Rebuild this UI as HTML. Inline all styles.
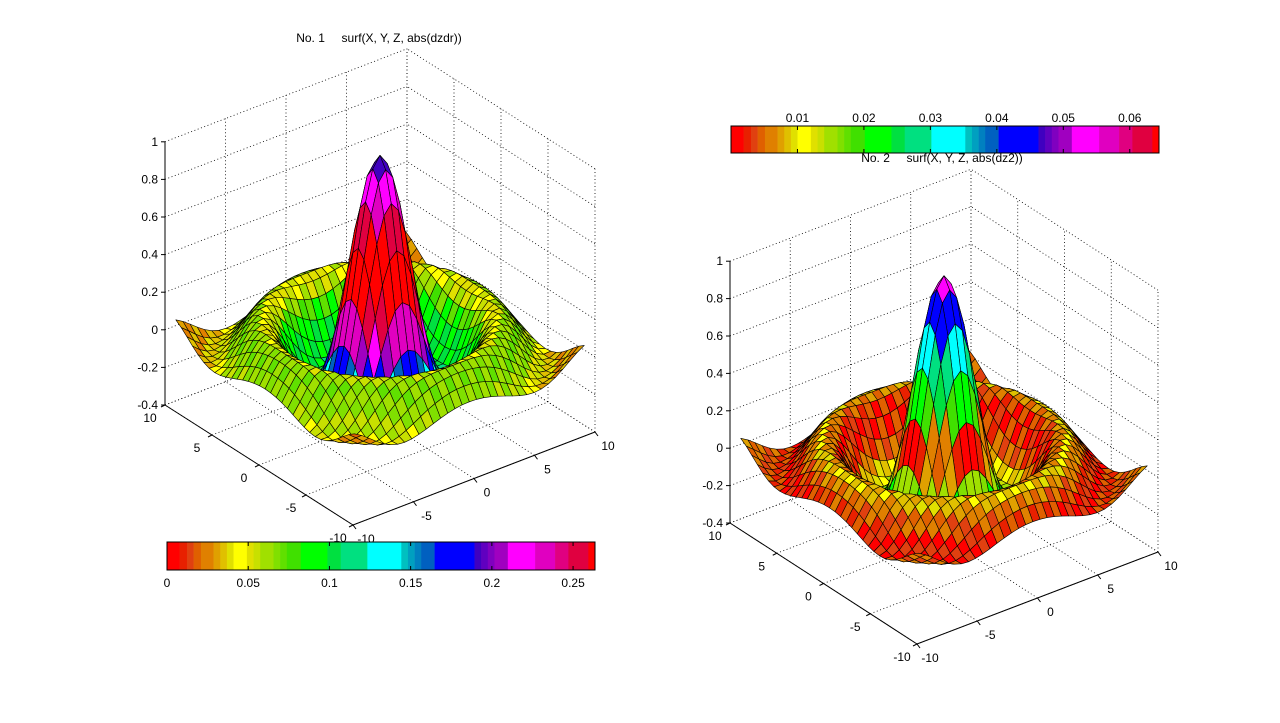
<!DOCTYPE html>
<html><head><meta charset="utf-8">
<style>
html,body{margin:0;padding:0;background:#fff;}
svg{display:block;font-family:"Liberation Sans",sans-serif;}
</style></head>
<body>
<svg id="fig" width="1280" height="723" viewBox="0 0 1280 723" xmlns="http://www.w3.org/2000/svg">
<rect x="0" y="0" width="1280" height="723" fill="#fff"/>
<g id="p1"></g>
<g id="p2"></g>
<g id="cb1"></g>
<g id="cb2"></g>
<text x="379" y="42" font-size="12" text-anchor="middle" xml:space="preserve">No. 1     surf(X, Y, Z, abs(dzdr))</text>
<text x="942" y="162" font-size="12" text-anchor="middle" xml:space="preserve">No. 2     surf(X, Y, Z, abs(dz2))</text>
</svg>
<script>
// ---- data ----
const gridVals = [-9.5,-8.906,-8.313,-7.719,-7.125,-6.531,-5.938,-5.344,-4.75,-4.156,-3.563,-2.969,-2.375,-1.781,-1.188,-0.594,0,0.594,1.188,1.781,2.375,2.969,3.563,4.156,4.75,5.344,5.938,6.531,7.125,7.719,8.313,8.906,9.5];
const xyTicks = [-10,-5,0,5,10];
const zTicks = [-0.4,-0.2,0,0.2,0.4,0.6,0.8,1];
const zTickLabels = ["-0.4","-0.2","0","0.2","0.4","0.6","0.8","1"];
// colour profiles (fraction of colormap) vs radius
const profileR  = [0,   0.7, 1.0, 1.3, 1.8, 2.1, 2.4, 2.7, 3.0, 3.3, 3.6, 4.5, 5.5, 6.3, 7.0, 7.7, 8.5, 9.5, 11,  13.5];
const profileF1 = [0.72,0.85,0.93,0.99,1.00,0.97,0.90,0.76,0.62,0.48,0.42,0.38,0.36,0.25,0.16,0.24,0.25,0.23,0.12,0.08];
const profileF2 = [0.85,0.68,0.66,0.44,0.36,0.10,0.02,0.14,0.25,0.35,0.30,0.18,0.06,0.03,0.08,0.15,0.08,0.03,0.06,0.12];
const cb1Ticks = [0,0.05,0.1,0.15,0.2,0.25];
const cb1Labels = ["0","0.05","0.1","0.15","0.2","0.25"];
const cb1Max = 0.2635;
const cb2Ticks = [0.01,0.02,0.03,0.04,0.05,0.06];
const cb2Labels = ["0.01","0.02","0.03","0.04","0.05","0.06"];
const cb2Max = 0.0644;
const cmapEdges = [0,38,60,80,102,140,160,180,200,240,260,280,320,340,360,402,482,522,602,704,724,744,764,804,924,944,964,984,1024,1106,1166,1206,1266,1286];
const cmapColors = ["#ff0000","#e82000","#e04010","#e06000","#e08000","#e0a000","#e0c000","#e0e000","#ffff00","#e0e000","#c8e000","#a0e000","#80e000","#60e000","#40e000","#00ff00","#00e040","#00e080","#00ffff","#00c0c0","#00a0c0","#0080c0","#0060c0","#0000ff","#4000c0","#6000c0","#8000c0","#a000c0","#ff00ff","#e000c0","#e00080","#e00040","#ff0000"];

const NS="http://www.w3.org/2000/svg";
function mk(tag,attrs,parent){const e=document.createElementNS(NS,tag);for(const k in attrs)e.setAttribute(k,attrs[k]);parent.appendChild(e);return e;}
function cmap(f){f=((f%1)+1)%1;f=Math.min(0.9999,f);const v=f*1286;for(let i=0;i<cmapColors.length;i++){if(v<cmapEdges[i+1])return cmapColors[i];}return cmapColors[cmapColors.length-1];}
function prof(arr,r){for(let i=0;i<profileR.length-1;i++){if(r<=profileR[i+1]){const t=(r-profileR[i])/(profileR[i+1]-profileR[i]);return arr[i]+t*(arr[i+1]-arr[i]);}}return arr[arr.length-1];}
function zf(x,y){const r=Math.sqrt(x*x+y*y)+1e-9;return Math.sin(r)/r;}

function drawPlot(g,cx,cy,ex,ey,ez,profile){
  const P=(x,y,z)=>[cx+x*ex[0]+y*ey[0], cy+x*ex[1]+y*ey[1]-(z+0.4)*ez];
  const grid=mk('g',{'stroke':'#000','stroke-width':'0.8','stroke-dasharray':'1,2.5',fill:'none'},g);
  
  
  const line=(a,b,par)=>mk('line',{x1:a[0],y1:a[1],x2:b[0],y2:b[1]},par);
  xyTicks.forEach(t=>{
    line(P(t,-10,-0.4),P(t,10,-0.4),grid); line(P(t,10,-0.4),P(t,10,1),grid);
    line(P(-10,t,-0.4),P(10,t,-0.4),grid); line(P(10,t,-0.4),P(10,t,1),grid);
  });
  zTicks.forEach(z=>{line(P(-10,10,z),P(10,10,z),grid);line(P(10,-10,z),P(10,10,z),grid);});
  const ax=mk('g',{stroke:'#000','stroke-width':'1',fill:'none'},g);
  
  
  line(P(-10,10,-0.4),P(-10,10,1),ax);
  line(P(-10,-10,-0.4),P(10,-10,-0.4),ax);
  line(P(-10,-10,-0.4),P(-10,10,-0.4),ax);
  const lab=mk('g',{'font-size':'12',fill:'#000'},g);
  
  
  zTicks.forEach((z,i)=>{const p=P(-10,10,z);line([p[0]-4,p[1]],p,ax);
    const t=mk('text',{x:p[0]-7,y:p[1]+4,'text-anchor':'end'},lab);t.textContent=zTickLabels[i];});
  xyTicks.forEach(v=>{
    const p=P(v,-10,-0.4);line(p,[p[0]+3,p[1]+4],ax);
    const t=mk('text',{x:p[0]+13,y:p[1]+18,'text-anchor':'middle'},lab);t.textContent=String(v);
    const q=P(-10,v,-0.4);line(q,[q[0]-4,q[1]+2],ax);
    const u=mk('text',{x:q[0]-15,y:q[1]+17,'text-anchor':'middle'},lab);u.textContent=String(v);
  });
  const cells=[];
  for(let i=0;i<gridVals.length-1;i++)for(let j=0;j<gridVals.length-1;j++){
    const x0=gridVals[i],x1=gridVals[i+1],y0=gridVals[j],y1=gridVals[j+1];
    cells.push({i,j,x0,x1,y0,y1,d:4.65*(x0+x1)/2+6.05*(y0+y1)/2});
  }
  cells.sort((a,b)=>b.d-a.d);
  const surf=mk('g',{stroke:'#000','stroke-width':'0.6','stroke-linejoin':'round'},g);
  
  
  cells.forEach(c=>{
    const pts=[[c.x0,c.y0],[c.x1,c.y0],[c.x1,c.y1],[c.x0,c.y1]].map(([x,y])=>P(x,y,zf(x,y)));
    const xs=Math.abs(c.x0)<Math.abs(c.x1)?c.x0:c.x1, ys=Math.abs(c.y0)<Math.abs(c.y1)?c.y0:c.y1;
    const r=Math.sqrt(xs*xs+ys*ys);
    let f=prof(profile,r);
    if(r>4) f+=((c.i+c.j)%2?0.02:-0.02);
    const pg=mk('polygon',{points:pts.map(p=>p[0].toFixed(1)+','+p[1].toFixed(1)).join(' '),fill:cmap(f)},surf);
    
    
  });
}

function drawColorbar(g,x0,y0,w,h,ticks,labels,vmax,labelAbove){
  for(let i=0;i<cmapColors.length;i++){
    const a=x0+cmapEdges[i]/1286*w,b=x0+cmapEdges[i+1]/1286*w;
    const r=mk('rect',{x:a,y:y0,width:b-a+0.3,height:h,fill:cmapColors[i]},g);
    
    
  }
  mk('rect',{x:x0,y:y0,width:w,height:h,fill:'none',stroke:'#000','stroke-width':'1'},g);
  ticks.forEach((v,i)=>{
    const x=x0+v/vmax*w;
    mk('line',{x1:x,y1:y0,x2:x,y2:y0+4,stroke:'#000'},g);
    mk('line',{x1:x,y1:y0+h,x2:x,y2:y0+h-4,stroke:'#000'},g);
    const t=mk('text',{x:x,y:labelAbove?y0-4:y0+h+17,'font-size':'12','text-anchor':'middle'},g);
    t.textContent=labels[i];
    
    
  });
}

drawPlot(document.getElementById('p1'),380,418.5,[12.1,-4.65],[-9.4,-6.0],188,profileF1);
drawPlot(document.getElementById('p2'),944,537.5,[12.05,-4.6],[-9.35,-6.05],187,profileF2);
drawColorbar(document.getElementById('cb1'),167,542,428,28,cb1Ticks,cb1Labels,cb1Max,false);
drawColorbar(document.getElementById('cb2'),731,126,428,27,cb2Ticks,cb2Labels,cb2Max,true);
</script>
</body></html>
